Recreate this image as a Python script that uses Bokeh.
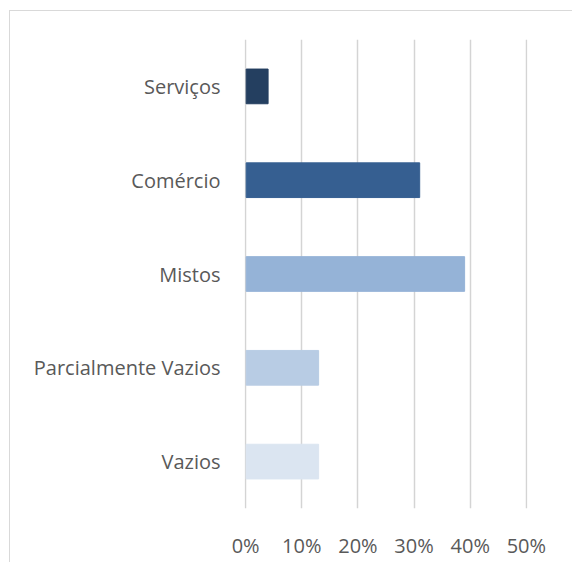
from bokeh.plotting import figure
from bokeh.models import FactorRange, FixedTicker, NumeralTickFormatter, ColumnDataSource
from bokeh.embed import file_html
from bokeh.resources import INLINE

categories = ["Vazios", "Parcialmente Vazios", "Mistos", "Comércio", "Serviços"]
values = [0.13, 0.13, 0.39, 0.31, 0.04]
colors = ["#DBE5F1", "#B8CCE4", "#95B3D7", "#365F91", "#243F60"]
x_ticks = [0.0, 0.1, 0.2, 0.3, 0.4, 0.5]

src = ColumnDataSource(dict(cat=categories, val=values, color=colors))

p = figure(width=563, height=552, y_range=FactorRange(*categories), x_range=(-0.002, 0.502),
           output_backend="svg", toolbar_location=None,
           min_border_left=234, min_border_right=46, min_border_top=28, min_border_bottom=55)
p.styles = {"margin-left": "9px", "margin-top": "10px",
            "border-left": "1px solid #d9d9d9", "border-top": "1px solid #d9d9d9"}

p.hbar(y="cat", right="val", left=0.001, height=0.37, fill_color="color", line_color="color", source=src)

p.outline_line_color = None
p.ygrid.grid_line_color = None
p.xgrid.grid_line_color = "#d4d4d4"
p.xgrid.grid_line_width = 1.5
p.xgrid.level = "underlay"

p.xaxis.ticker = FixedTicker(ticks=x_ticks)
p.xaxis.formatter = NumeralTickFormatter(format="0%")
for ax in (p.xaxis, p.yaxis):
    ax.axis_line_color = None
    ax.major_tick_line_color = None
    ax.minor_tick_line_color = None
    ax.major_label_text_font = "Open Sans"
    ax.major_label_text_font_size = "20px"
    ax.major_label_text_color = "#595959"
p.xaxis.major_label_standoff = 17
p.yaxis.major_label_standoff = 18

open("out.html", "w").write(file_html(p, INLINE))
